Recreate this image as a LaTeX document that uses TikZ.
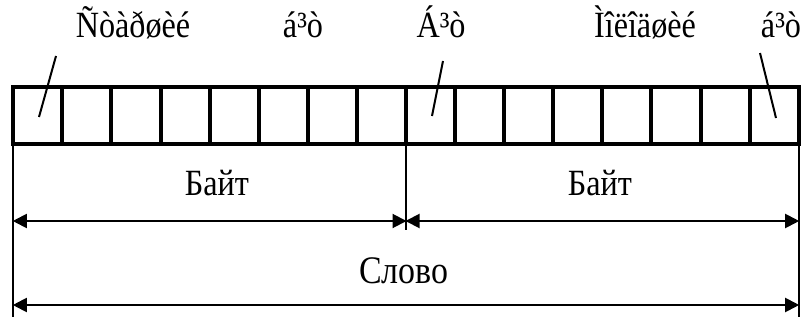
\documentclass[tikz,border=0pt]{standalone}
\usepackage{fontspec}
\setmainfont{Liberation Serif}
\usetikzlibrary{arrows.meta}
\newcommand{\tallbox}[1]{\scalebox{0.87}[1]{#1}}
\begin{document}
\begin{tikzpicture}[x=1pt,y=-1pt,
  cellbox/.style={draw,line width=4pt,minimum width=49.08pt,minimum height=57pt,inner sep=0pt,outer sep=0pt,anchor=north west},
  lbl/.style={font=\fontsize{37}{37}\selectfont,anchor=base,inner sep=0pt},
  dimline/.style={line width=2pt},
  dimarrow/.style={line width=2pt,{Triangle[length=14pt,width=14pt]}-{Triangle[length=14pt,width=14pt]},shorten <=-0.5pt,shorten >=-0.5pt},
  ptr/.style={line width=2pt}]
\useasboundingbox (0,0) rectangle (810,320);
\foreach \i in {1,...,16} {
  \node[cellbox] (cell\i) at ({13.3+(\i-1)*49.0875},87.5) {};
}
% labels
\node[lbl] (t1) at (133,38) {\tallbox{Ñòàðøèé}};
\node[lbl] (t2) at (303,38) {\tallbox{á³ò}};
\node[lbl] (t3) at (441,38) {\tallbox{Á³ò}};
\node[lbl] (t4) at (645,38) {\tallbox{Ìîëîäøèé}};
\node[lbl] (t5) at (781,38) {\tallbox{á³ò}};
% pointers
\coordinate (p1a) at (56,56);   \coordinate (p1b) at (39,117);
\coordinate (p2a) at (443,61);  \coordinate (p2b) at (432,116);
\coordinate (p3a) at (760,53);  \coordinate (p3b) at (776,118);
\draw[ptr] (p1a) -- (p1b);
\draw[ptr] (p2a) -- (p2b);
\draw[ptr] (p3a) -- (p3b);
% vertical extension lines
\coordinate (lowend) at (0,317);
\coordinate (midend) at (0,230);
\draw[dimline] (cell1.south west) -- (cell1.south west |- lowend);
\draw[dimline] (cell16.south east) -- (cell16.south east |- lowend);
\draw[dimline] (cell9.south west) -- (cell9.south west |- midend);
% byte arrows
\coordinate (arow) at (0,221);
\coordinate (wrow) at (0,305);
\draw[dimarrow] (cell1.south west |- arow) -- (cell9.south west |- arow);
\draw[dimarrow] (cell9.south west |- arow) -- (cell16.south east |- arow);
\node[lbl] (b1) at (217,196) {\tallbox{Байт}};
\node[lbl] (b2) at (600,196) {\tallbox{Байт}};
% word arrow
\draw[dimarrow] (cell1.south west |- wrow) -- (cell16.south east |- wrow);
\node[lbl,font=\fontsize{39}{39}\selectfont] (w) at (404,283) {\tallbox{Слово}};
\end{tikzpicture}
\end{document}
